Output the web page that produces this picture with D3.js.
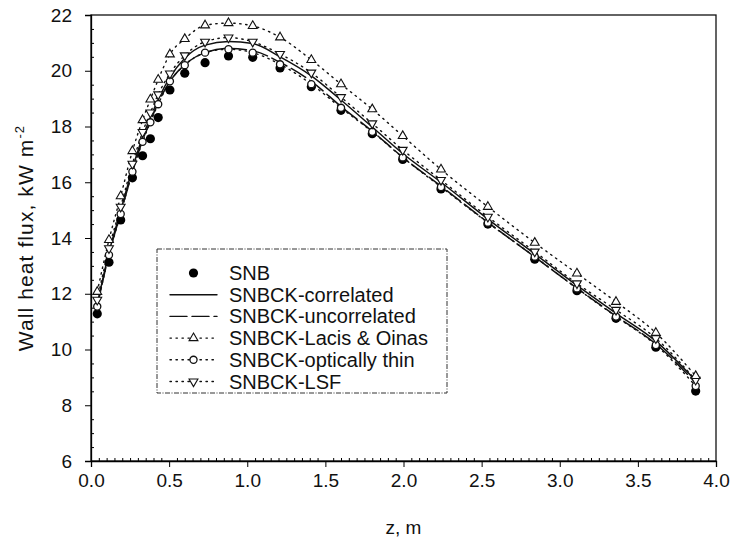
<!DOCTYPE html>
<html>
<head>
<meta charset="utf-8">
<script src="https://cdn.jsdelivr.net/npm/d3@7"></script>
<style>
  body { margin: 0; background: #fff; }
  text { font-family: "Liberation Sans", Arial, sans-serif; fill: #111; }
</style>
</head>
<body>
<div id="chart"></div>
<script>
// axial stations, m
const zValues = [0.04, 0.115, 0.19, 0.265, 0.33, 0.38, 0.43, 0.505, 0.6, 0.73, 0.88, 1.035,
                 1.21, 1.41, 1.6, 1.8, 1.995, 2.24, 2.54, 2.84, 3.11, 3.36, 3.615, 3.87];

// wall heat flux, kW m-2
const snb = [11.28, 13.13, 14.65, 16.16, 16.95, 17.56, 18.32, 19.31, 19.91, 20.29, 20.53, 20.48,
             20.1, 19.43, 18.58, 17.74, 16.82, 15.76, 14.5, 13.24, 12.11, 11.12, 10.08, 8.51];
const correlated = [11.62, 13.48, 14.98, 16.48, 17.62, 18.32, 18.97, 19.76, 20.45, 20.92, 21.05, 20.98,
                    20.5, 19.82, 18.95, 17.98, 17.03, 16.0, 14.68, 13.43, 12.3, 11.3, 10.3, 8.88];
const uncorrelated = [11.56, 13.4, 14.9, 16.36, 17.5, 18.2, 18.85, 19.62, 20.22, 20.65, 20.8, 20.72,
                      20.3, 19.62, 18.72, 17.83, 16.9, 15.86, 14.56, 13.32, 12.2, 11.2, 10.2, 8.8];
const lacis = [12.07, 13.93, 15.5, 17.12, 18.23, 18.97, 19.68, 20.59, 21.14, 21.63, 21.71, 21.61,
               21.2, 20.39, 19.52, 18.62, 17.66, 16.46, 15.12, 13.83, 12.73, 11.71, 10.6, 9.05];
const thin = [11.54, 13.39, 14.86, 16.38, 17.45, 18.15, 18.8, 19.62, 20.2, 20.65, 20.77, 20.65,
              20.23, 19.52, 18.67, 17.81, 16.89, 15.83, 14.55, 13.33, 12.19, 11.18, 10.16, 8.69];
const lsf = [11.78, 13.63, 15.12, 16.66, 17.8, 18.5, 19.15, 19.9, 20.55, 21.04, 21.19, 21.04,
             20.6, 19.93, 19.05, 18.11, 17.16, 16.08, 14.76, 13.51, 12.37, 11.42, 10.4, 8.91];

const xTicks = [0, 0.5, 1, 1.5, 2, 2.5, 3, 3.5, 4];
const yTicks = [6, 8, 10, 12, 14, 16, 18, 20, 22];
const legendNames = ['SNB', 'SNBCK-correlated', 'SNBCK-uncorrelated', 'SNBCK-Lacis & Oinas',
                     'SNBCK-optically thin', 'SNBCK-LSF'];

const width = 730, height = 546;
const svg = d3.select('#chart').append('svg')
    .attr('width', width)
    .attr('height', height);

const x = d3.scaleLinear().domain([0, 4]).range([91, 716]);
const y = d3.scaleLinear().domain([6, 22]).range([461, 15]);

// frame
svg.append('rect')
    .attr('x', x(0)).attr('y', y(22))
    .attr('width', x(4) - x(0)).attr('height', y(6) - y(22))
    .attr('fill', 'none').attr('stroke', '#111').attr('stroke-width', 1.3);

// x axis: major ticks out, minor ticks in
const xMinor = d3.range(0, 4.0001, 0.05).filter(v => Math.abs(v * 2 - Math.round(v * 2)) > 1e-6);
svg.append('g')
    .attr('transform', `translate(0,${y(6)})`)
    .call(d3.axisBottom(x).tickValues(xMinor).tickSize(-3).tickFormat(''))
    .call(g => g.select('.domain').remove());
svg.append('g')
    .attr('transform', `translate(0,${y(6)})`)
    .call(d3.axisBottom(x).tickValues(xTicks).tickSize(6).tickPadding(7).tickFormat(d3.format('.1f')))
    .call(g => g.select('.domain').attr('stroke-width', 1.3))
    .call(g => g.selectAll('text').attr('font-size', 19).attr('fill', '#111'));

const yMinor = d3.range(6, 22.0001, 0.5).filter(v => Math.abs(v / 2 - Math.round(v / 2)) > 1e-6);
svg.append('g')
    .attr('transform', `translate(${x(0)},0)`)
    .call(d3.axisLeft(y).tickValues(yMinor).tickSize(-3).tickFormat(''))
    .call(g => g.select('.domain').remove());
svg.append('g')
    .attr('transform', `translate(${x(0)},0)`)
    .call(d3.axisLeft(y).tickValues(yTicks).tickSize(6).tickPadding(13).tickFormat(d3.format('d')))
    .call(g => g.select('.domain').attr('stroke-width', 1.3))
    .call(g => g.selectAll('text').attr('font-size', 19).attr('fill', '#111'));

// axis titles
svg.append('text')
    .attr('x', (x(0) + x(4)) / 2).attr('y', 534)
    .attr('text-anchor', 'middle').attr('font-size', 19)
    .text('z, m');

const yl = svg.append('text')
    .attr('transform', `translate(33,${(y(6) + y(22)) / 2}) rotate(-90)`)
    .attr('text-anchor', 'middle').attr('font-size', 21)
    .attr('letter-spacing', 1.1);
yl.append('tspan').text('Wall heat flux, kW m');
yl.append('tspan').attr('font-size', 13).attr('dy', -9).text('-2');

// series
const series = [
    { name: legendNames[0], values: snb, line: null, marker: 'snb' },
    { name: legendNames[1], values: correlated, line: 'none', marker: null },
    { name: legendNames[2], values: uncorrelated, line: '17,5', marker: null },
    { name: legendNames[3], values: lacis, line: '1.4,4.6', marker: 'up' },
    { name: legendNames[4], values: thin, line: '1.4,4.6', marker: 'circle' },
    { name: legendNames[5], values: lsf, line: '1.4,4.6', marker: 'down' }
];

const line = d3.line()
    .x((d, i) => x(zValues[i]))
    .y(d => y(d))
    .curve(d3.curveMonotoneX);

const triUp = d3.symbol().type(d3.symbolTriangle).size(34);
const circ = d3.symbol().type(d3.symbolCircle).size(40);

function drawMarker(g, type, cx, cy) {
    if (type === 'snb') {
        g.append('circle').attr('cx', cx).attr('cy', cy).attr('r', 4.6).attr('fill', '#000');
    } else if (type === 'circle') {
        g.append('path').attr('d', circ).attr('transform', `translate(${cx},${cy})`)
            .attr('fill', '#fff').attr('stroke', '#111').attr('stroke-width', 1.3);
    } else {
        const rot = type === 'down' ? 180 : 0;
        g.append('path').attr('d', triUp).attr('transform', `translate(${cx},${cy}) rotate(${rot})`)
            .attr('fill', '#fff').attr('stroke', '#111').attr('stroke-width', 1.1);
    }
}

const plot = svg.append('g');
series.filter(s => s.line !== null).forEach(s => {
    plot.append('path')
        .datum(s.values)
        .attr('d', line)
        .attr('fill', 'none')
        .attr('stroke', '#111')
        .attr('stroke-width', s.marker ? 1.4 : 1.5)
        .attr('stroke-dasharray', s.line === 'none' ? null : s.line)
        .attr('stroke-linecap', 'round');
});

['snb', 'circle', 'down', 'up'].forEach(type => {
    const s = series.find(d => d.marker === type);
    s.values.forEach((v, i) => drawMarker(plot, type, x(zValues[i]), y(v)));
});

// legend
const lg = svg.append('g');
lg.append('rect')
    .attr('x', 157).attr('y', 249).attr('width', 290).attr('height', 144)
    .attr('fill', '#fff').attr('stroke', '#333').attr('stroke-width', 1)
    .attr('stroke-dasharray', '5,1.5,1,1.5');

series.forEach((s, i) => {
    const ly = 273 + i * 21.7;
    if (s.line !== null) {
        lg.append('line')
            .attr('x1', 170).attr('x2', 217).attr('y1', ly).attr('y2', ly)
            .attr('stroke', '#111').attr('stroke-width', 1.4)
            .attr('stroke-dasharray', s.line === 'none' ? null : s.line)
            .attr('stroke-linecap', 'round');
    }
    if (s.marker) drawMarker(lg, s.marker, 193.5, ly);
    lg.append('text')
        .attr('x', 229).attr('y', ly + 7)
        .attr('font-size', 20)
        .text(s.name);
});
</script>
</body>
</html>
